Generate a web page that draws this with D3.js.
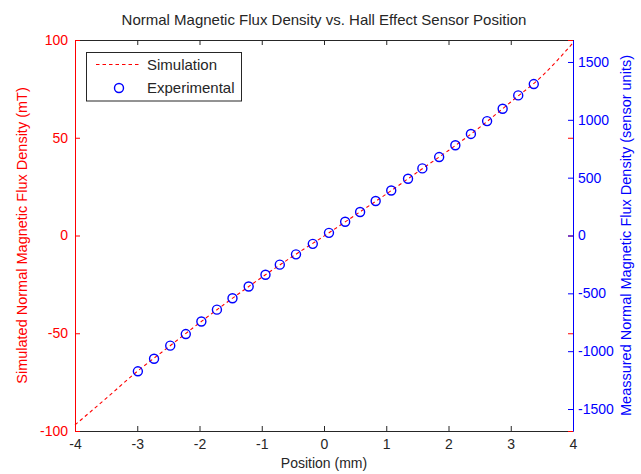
<!DOCTYPE html>
<html>
<head>
<meta charset="utf-8">
<script src="https://cdn.jsdelivr.net/npm/d3@7"></script>
<style>
  html, body { margin: 0; padding: 0; background: #fff; }
  svg { display: block; font-family: "Liberation Sans", Arial, sans-serif; }
</style>
</head>
<body>
<svg id="chart" width="641" height="474"></svg>
<script>
// Simulated normal flux density (mT) along the sensor path
const simPosition = [-4, -3.5, -3, -2.5, -2, -1.5, -1, -0.5, 0, 0.5, 1, 1.5, 2, 2.5, 3, 3.5, 4];
const simFlux = [-96.9, -83.3, -69.5, -57.1, -44.7, -32.8, -21.4, -10.6, -0.3, 10.4, 21.2, 32.4, 43.5, 55.3, 68.3, 81.5, 98.5];

// Hall effect sensor readings (sensor units)
const expPosition = [-2.99, -2.73, -2.47, -2.22, -1.97, -1.72, -1.47, -1.21, -0.94, -0.71, -0.45, -0.18,
                     0.08, 0.34, 0.58, 0.83, 1.08, 1.35, 1.58, 1.85, 2.11, 2.36, 2.62, 2.87, 3.12, 3.37];
const expReading = [-1174, -1065, -952, -852, -743, -641, -542, -441, -339, -252, -163, -72,
                    23, 119, 203, 298, 389, 491, 580, 678, 780, 878, 989, 1096, 1211, 1309];

const xTicks = [-4, -3, -2, -1, 0, 1, 2, 3, 4];
const leftTicks = [-100, -50, 0, 50, 100];
const rightTicks = [-1500, -1000, -500, 0, 500, 1000, 1500];

const RED = "#ff0000", BLUE = "#0000ff", INK = "#262626";
const m = { left: 75, right: 68, top: 40, bottom: 43 };
const W = 641, H = 474;
const x0 = m.left, x1 = W - m.right, y0 = m.top, y1 = H - m.bottom;

const svg = d3.select("#chart");
const x = d3.scaleLinear().domain([-4, 4]).range([x0, x1]);
const yL = d3.scaleLinear().domain([-100, 100]).range([y1, y0]);
const yR = d3.scaleLinear().domain([-1690, 1690]).range([y1, y0]);

const TL = 5;
const minus = d => d < 0 ? "-" + Math.abs(d) : String(d);

// top box edge with ticks
const gTop = svg.append("g").attr("transform", `translate(0,${y0})`)
  .call(d3.axisTop(x).tickValues(xTicks).tickSizeInner(-TL).tickSizeOuter(0).tickFormat(""));
gTop.select(".domain").attr("stroke", INK);
gTop.selectAll(".tick line").attr("stroke", INK);

// bottom axis
const gBottom = svg.append("g").attr("transform", `translate(0,${y1})`)
  .call(d3.axisBottom(x).tickValues(xTicks).tickSizeInner(-TL).tickSizeOuter(0).tickPadding(8).tickFormat(minus));
gBottom.select(".domain").attr("stroke", INK);
gBottom.selectAll(".tick line").attr("stroke", INK);
gBottom.selectAll(".tick text").attr("fill", INK).style("font-size", "14px");

// left-axis ticks mirrored on the right edge
const gMirror = svg.append("g").attr("transform", `translate(${x1},0)`)
  .call(d3.axisRight(yL).tickValues(leftTicks).tickSizeInner(-TL).tickSizeOuter(0).tickFormat(""));
gMirror.select(".domain").remove();
gMirror.selectAll(".tick line").attr("stroke", RED);

// left axis (simulation, mT)
const gLeft = svg.append("g").attr("transform", `translate(${x0},0)`)
  .call(d3.axisLeft(yL).tickValues(leftTicks).tickSizeInner(-TL).tickSizeOuter(0).tickPadding(7).tickFormat(minus));
gLeft.select(".domain").attr("stroke", RED);
gLeft.selectAll(".tick line").attr("stroke", RED);
gLeft.selectAll(".tick text").attr("fill", RED).style("font-size", "14px");

// right axis (sensor units)
const gRight = svg.append("g").attr("transform", `translate(${x1},0)`)
  .call(d3.axisRight(yR).tickValues(rightTicks).tickSizeInner(-TL).tickSizeOuter(0).tickPadding(5).tickFormat(minus));
gRight.select(".domain").attr("stroke", BLUE);
gRight.selectAll(".tick line").attr("stroke", BLUE);
gRight.selectAll(".tick text").attr("fill", BLUE).style("font-size", "14px");

// simulation curve
const sim = simPosition.map((p, i) => [p, simFlux[i]]);
svg.append("path")
  .datum(sim)
  .attr("fill", "none")
  .attr("stroke", RED)
  .attr("stroke-width", 1.1)
  .attr("stroke-dasharray", "3.5,3")
  .attr("d", d3.line().x(d => x(d[0])).y(d => yL(d[1])).curve(d3.curveMonotoneX));

// experimental readings
svg.append("g").selectAll("circle")
  .data(expPosition.map((p, i) => [p, expReading[i]]))
  .join("circle")
  .attr("cx", d => x(d[0]))
  .attr("cy", d => yR(d[1]))
  .attr("r", 4.5)
  .attr("fill", "none")
  .attr("stroke", BLUE)
  .attr("stroke-width", 1.4);

// title and axis labels
svg.append("text").attr("x", (x0 + x1) / 2).attr("y", 25).attr("text-anchor", "middle")
  .attr("fill", INK).style("font-size", "15px")
  .text("Normal Magnetic Flux Density vs. Hall Effect Sensor Position");
svg.append("text").attr("x", (x0 + x1) / 2).attr("y", 468).attr("text-anchor", "middle")
  .attr("fill", INK).style("font-size", "14px").text("Position (mm)");
svg.append("text").attr("transform", `translate(27,${(y0 + y1) / 2}) rotate(-90)`).attr("text-anchor", "middle")
  .attr("fill", RED).style("font-size", "14.5px").text("Simulated Normal Magnetic Flux Density (mT)");
svg.append("text").attr("transform", `translate(631,${(y0 + y1) / 2}) rotate(-90)`).attr("text-anchor", "middle")
  .attr("fill", BLUE).style("font-size", "14.5px").text("Meassured Normal Magnetic Flux Density (sensor units)");

// legend
const lg = svg.append("g");
lg.append("rect").attr("x", 86.5).attr("y", 52.5).attr("width", 155).attr("height", 48.5)
  .attr("fill", "#fff").attr("stroke", INK).attr("stroke-width", 1);
lg.append("line").attr("x1", 96).attr("x2", 141).attr("y1", 64.5).attr("y2", 64.5)
  .attr("stroke", RED).attr("stroke-width", 1.1).attr("stroke-dasharray", "3.5,3");
lg.append("text").attr("x", 147).attr("y", 69.5).attr("fill", INK).style("font-size", "15px").text("Simulation");
lg.append("circle").attr("cx", 119).attr("cy", 88).attr("r", 4.5)
  .attr("fill", "none").attr("stroke", BLUE).attr("stroke-width", 1.4);
lg.append("text").attr("x", 147).attr("y", 93).attr("fill", INK).style("font-size", "15px").text("Experimental");
</script>
</body>
</html>
